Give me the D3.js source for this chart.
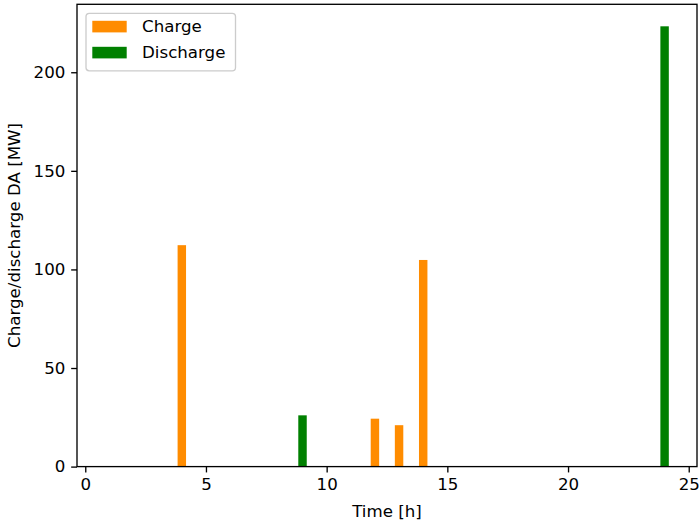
<!DOCTYPE html>
<html>
<head>
<meta charset="utf-8">
<script src="https://cdn.jsdelivr.net/npm/d3@7"></script>
<style>
  html, body { margin: 0; padding: 0; background: #fff; }
  svg { display: block; font-family: "DejaVu Sans", sans-serif; }
</style>
</head>
<body>
<svg id="chart" width="700" height="523"></svg>
<script>
// Hourly day-ahead schedule (hours 1..24), MW
const hours = d3.range(1, 25);
const chargeMW = [0, 0, 0, 112.3, 0, 0, 0, 0, 0, 0, 0, 24.3, 21.0, 104.8, 0, 0, 0, 0, 0, 0, 0, 0, 0, 0];
const dischargeMW = [0, 0, 0, 0, 0, 0, 0, 0, 26.0, 0, 0, 0, 0, 0, 0, 0, 0, 0, 0, 0, 0, 0, 0, 223.3];
const seriesNames = ["Charge", "Discharge"];
const seriesColors = ["#ff8c00", "#008000"];
const xTicks = [0, 5, 10, 15, 20, 25];
const yTicks = [0, 50, 100, 150, 200];

const barWidth = 0.35;
const margin = { left: 77, right: 3, top: 4.3, bottom: 56.4 };
const W = 700, H = 523;
const plotW = W - margin.left - margin.right;
const plotH = H - margin.top - margin.bottom;

const svg = d3.select("#chart");
const g = svg.append("g").attr("transform", `translate(${margin.left},${margin.top})`);

// 5% autoscale margins around the bars
const xLo = d3.min(hours) - barWidth / 2, xHi = d3.max(hours) + barWidth / 2;
const xPad = (xHi - xLo) * 0.05;
const x = d3.scaleLinear().domain([xLo - xPad, xHi + xPad]).range([0, plotW]);
const yMax = d3.max([...chargeMW, ...dischargeMW]);
const y = d3.scaleLinear().domain([0, yMax * 1.05]).range([plotH, 0]);

const series = [chargeMW, dischargeMW];
series.forEach((vals, si) => {
  g.append("g").selectAll("rect")
    .data(hours.map((h, i) => ({ h, v: vals[i] })).filter(d => d.v > 0))
    .join("rect")
    .attr("x", d => x(d.h - barWidth / 2))
    .attr("width", d => x(d.h + barWidth / 2) - x(d.h - barWidth / 2))
    .attr("y", d => y(d.v))
    .attr("height", d => y(0) - y(d.v))
    .attr("fill", seriesColors[si]);
});

// Axes
const fontPx = 16.67;
const tickLen = 5.83;
const lineW = 1.33;
const xAxis = d3.axisBottom(x).tickValues(xTicks).tickSize(tickLen).tickPadding(tickLen).tickFormat(d3.format("d"));
const yAxis = d3.axisLeft(y).tickValues(yTicks).tickSize(tickLen).tickPadding(tickLen).tickFormat(d3.format("d"));

const gx = g.append("g").attr("transform", `translate(0,${plotH})`).call(xAxis);
const gy = g.append("g").call(yAxis);
[gx, gy].forEach(a => {
  a.select(".domain").remove();
  a.selectAll("line").attr("stroke", "#000").attr("stroke-width", lineW);
  a.selectAll("text").attr("fill", "#000").style("font-size", fontPx + "px")
    .style("font-family", "DejaVu Sans, sans-serif");
});

// Frame
g.append("rect").attr("x", 0).attr("y", 0).attr("width", plotW).attr("height", plotH)
  .attr("fill", "none").attr("stroke", "#000").attr("stroke-width", lineW);

// Axis labels
svg.append("text").attr("x", margin.left + plotW / 2).attr("y", 517)
  .attr("text-anchor", "middle").style("font-size", fontPx + "px").attr("fill", "#000")
  .text("Time [h]");
svg.append("text")
  .attr("transform", `translate(19.5,${margin.top + plotH / 2}) rotate(-90)`)
  .attr("text-anchor", "middle").style("font-size", fontPx + "px").attr("fill", "#000")
  .text("Charge/discharge DA [MW]");

// Legend
const leg = g.append("g").attr("transform", "translate(9,9)");
leg.append("rect").attr("width", 149.5).attr("height", 57.5).attr("rx", 3.3)
  .attr("fill", "#fff").attr("fill-opacity", 0.8).attr("stroke", "#ccc").attr("stroke-width", lineW);
seriesNames.forEach((name, i) => {
  const row = leg.append("g").attr("transform", `translate(0,${7.5 + i * 26})`);
  row.append("rect").attr("x", 6.3).attr("width", 34.4).attr("height", 11.6).attr("fill", seriesColors[i]);
  row.append("text").attr("x", 56).attr("y", 5.8).attr("dy", "0.35em")
    .style("font-size", fontPx + "px").attr("fill", "#000").text(name);
});
</script>
</body>
</html>
